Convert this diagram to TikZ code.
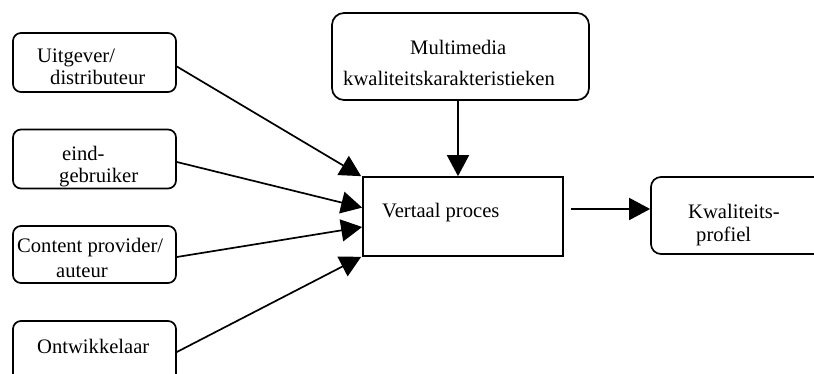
\documentclass[tikz,border=0pt]{standalone}
\usepackage{fontspec}
\setmainfont{Liberation Serif}
\usetikzlibrary{arrows.meta,calc}
\begin{document}
\begin{tikzpicture}[x=1pt,y=-1pt,
    box/.style = {draw, rounded corners=8pt, line width=1.7pt, minimum width=163pt, minimum height=59pt, inner sep=0pt},
    proc/.style = {draw, line width=1.7pt, inner sep=0pt},
    txt/.style = {anchor=base west, inner sep=0pt, font=\fontsize{20.6}{22}\selectfont},
    flow/.style = {line width=1.7pt, -{Triangle[length=21pt,width=22pt]}}]
				\useasboundingbox (0,0) rectangle (814,374);
				% boxes
				\node (uitgever) at (94.5,62.5) [box] {};
				\node (eindgebr) at (94.5,159) [box] {};
				\node (content) at (94.5,254.5) [box, minimum height=57pt] {};
				\node (ontwikk) at (94.5,352) [box, minimum height=62pt] {};
				\node (multimedia) at (460.5,56.5) [box, rounded corners=12pt, minimum width=257pt, minimum height=87pt] {};
				\node (vertaal) at (463,216.5) [proc, minimum width=200pt, minimum height=79pt] {};
				\node (profiel) at (741,215.5) [box, rounded corners=10pt, minimum width=180pt, minimum height=77pt] {};
				% texts
				\node (t-uitg1) at (37,63) [txt] {Uitgever/};
				\node (t-uitg2) at (50,85) [txt] {distributeur};
				\node (t-eind1) at (62,161) [txt] {eind-};
				\node (t-eind2) at (59,183) [txt] {gebruiker};
				\node (t-cont1) at (17,252) [txt] {Content provider/};
				\node (t-cont2) at (56,277) [txt] {auteur};
				\node (t-ontw) at (37,353) [txt] {Ontwikkelaar};
				\node (t-mm1) at (410,55) [txt] {Multimedia};
				\node (t-mm2) at (343,86) [txt] {kwaliteitskarakteristieken};
				\node (t-vert) at (382,218) [txt] {Vertaal proces};
				\node (t-prof1) at (688,219) [txt] {Kwaliteits-};
				\node (t-prof2) at (696,241) [txt] {profiel};
				% arrows
				\draw[flow] ($(uitgever.east)+(0,4)$) -- ($(vertaal.north west)+(-1,0)$);
				\draw[flow] ($(eindgebr.east)+(0,3)$) -- ($(vertaal.north west)!0.39!(vertaal.south west)$);
				\draw[flow] ($(content.east)+(0,2.5)$) -- ($(vertaal.north west)!0.63!(vertaal.south west)$);
				\draw[flow] (ontwikk.east) -- ($(vertaal.south west)+(-1,0)$);
				\draw[flow] ($(multimedia.south)+(-2.5,0)$) coordinate (mstart) -- (mstart |- vertaal.north);
				\draw[flow] ($(vertaal.east)+(7,-7.5)$) coordinate (pstart) -- (pstart -| profiel.west);
				\end{tikzpicture}
\end{document}
